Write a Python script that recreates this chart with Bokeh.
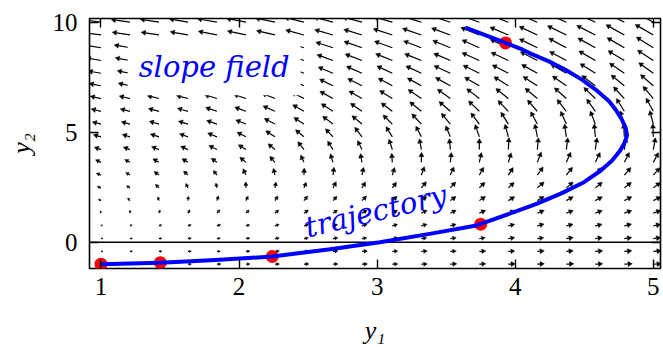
import numpy as np
from bokeh.plotting import figure
from bokeh.models import Range1d, FixedTicker, LinearAxis, Span, Label, ColumnDataSource
from bokeh.core.properties import value
from bokeh.embed import file_html
from bokeh.resources import INLINE

# ---------------- data ----------------
Y1_GRID = [1.00, 1.21, 1.42, 1.63, 1.84, 2.05, 2.26, 2.47, 2.68, 2.89,
           3.11, 3.32, 3.53, 3.74, 3.95, 4.16, 4.37, 4.58, 4.79, 5.00]
Y2_GRID = [-1.00, -0.42, 0.16, 0.74, 1.32, 1.89, 2.47, 3.05, 3.63, 4.21,
           4.79, 5.37, 5.95, 6.53, 7.11, 7.68, 8.26, 8.84, 9.42, 10.00]

# on-screen direction of every slope-field arrow (degrees, rows = Y2_GRID)
ARROW_ANGLE_DEG = [
    [0, 2, 2, 2, 2, 2, 3, 3, 3, 3, 3, 3, 3, 3, 3, 3, 3, 3, 3, 3],
    [0, 3, 4, 4, 4, 5, 5, 5, 5, 5, 5, 5, 5, 5, 5, 5, 5, 5, 5, 5],
    [12, 11, 10, 10, 10, 10, 10, 10, 10, 10, 10, 10, 10, 10, 10, 9, 9, 9, 9, 9],
    [40, 30, 24, 21, 20, 19, 19, 19, 18, 18, 17, 17, 16, 16, 15, 15, 14, 14, 14, 13],
    [100, 88, 72, 58, 49, 43, 39, 36, 33, 31, 29, 27, 26, 24, 23, 22, 21, 21, 20, 20],
    [150, 132, 108, 85, 72, 64, 57, 51, 47, 44, 41, 38, 36, 34, 32, 31, 30, 29, 28, 28],
    [160, 150, 135, 117, 103, 92, 80, 68, 62, 58, 54, 51, 48, 45, 43, 41, 40, 39, 38, 37],
    [158, 148, 144, 138, 128, 115, 103, 88, 82, 78, 74, 70, 66, 61, 57, 54, 52, 50, 49, 48],
    [155, 152, 150, 148, 145, 140, 130, 115, 107, 100, 94, 89, 84, 78, 73, 69, 66, 64, 63, 62],
    [160, 159, 158, 156, 153, 148, 140, 128, 122, 116, 108, 100, 95, 90, 87, 85, 83, 82, 81, 80],
    [164, 163, 162, 160, 158, 153, 147, 140, 133, 127, 122, 117, 113, 109, 105, 101, 98, 95, 93, 92],
    [166, 165, 164, 163, 161, 158, 153, 147, 143, 140, 136, 133, 130, 127, 122, 118, 114, 111, 108, 105],
    [167, 166, 165, 164, 162, 160, 156, 150, 147, 145, 143, 141, 139, 136, 134, 131, 128, 125, 122, 119],
    [168, 167, 166, 165, 163, 161, 158, 153, 151, 150, 148, 146, 144, 142, 141, 140, 138, 136, 133, 130],
    [169, 168, 167, 166, 165, 163, 160, 156, 154, 153, 152, 151, 151, 150, 148, 147, 145, 143, 141, 139],
    [170, 169, 168, 167, 166, 164, 162, 159, 157, 156, 155, 155, 155, 154, 153, 151, 150, 148, 146, 144],
    [170, 170, 169, 168, 167, 166, 164, 161, 160, 159, 158, 158, 157, 156, 155, 153, 152, 150, 149, 147],
    [171, 170, 170, 169, 168, 167, 165, 163, 162, 161, 160, 159, 158, 156, 155, 154, 152, 151, 150, 148],
    [172, 171, 171, 170, 169, 168, 167, 165, 164, 163, 162, 161, 160, 158, 157, 155, 154, 153, 151, 150],
    [172, 172, 171, 170, 170, 169, 168, 166, 165, 165, 164, 163, 162, 160, 159, 157, 156, 155, 153, 152],
]

# on-screen length of every arrow (pixels)
ARROW_LEN_PX = [
    [2, 2.5, 3, 3.5, 4, 4, 4.5, 5, 5, 5.5, 5.5, 6, 6.5, 6.5, 7, 7, 7.5, 7.5, 8, 8],
    [2, 2.5, 3, 3.5, 3.5, 4, 4.5, 4.5, 5, 5.5, 5.5, 6, 6, 6.5, 6.5, 7, 7, 7.5, 7.5, 8],
    [2, 2.5, 3, 3.5, 3.5, 4, 4.5, 4.5, 5, 5, 5.5, 5.5, 6, 6, 6.5, 6.5, 7, 7, 7.5, 7.5],
    [2, 2.5, 3, 3.5, 4, 4, 4.5, 5, 5, 5.5, 5.5, 6, 6, 6.5, 6.5, 7, 7, 7, 7.5, 7.5],
    [2.5, 3, 3.5, 4, 4.5, 4.5, 5, 5.5, 5.5, 6, 6, 6.5, 6.5, 7, 7, 7.5, 7.5, 7.5, 8, 8],
    [3, 3.5, 4, 4.5, 5, 5, 5.5, 6, 6, 6.5, 6.5, 7, 7, 7.5, 7.5, 8, 8, 8, 8.5, 8.5],
    [4, 4, 5, 5, 5, 6, 6, 6, 7, 7, 7, 8, 8, 8, 8, 9, 9, 9, 9, 9],
    [5, 5, 6, 6, 6, 7, 7, 7, 8, 8, 8, 9, 9, 9, 9, 10, 10, 10, 10, 10],
    [6, 6, 7, 7, 7, 8, 8, 8, 9, 9, 9, 10, 10, 10, 10, 11, 11, 11, 11, 11],
    [7, 7, 8, 8, 9, 9, 9, 10, 10, 10, 11, 11, 11, 11, 12, 12, 12, 12, 12, 12],
    [8, 8, 9, 9, 10, 10, 11, 11, 11, 12, 12, 12, 12, 13, 13, 13, 13, 13, 13, 13],
    [9, 9, 10, 10, 11, 11, 12, 12, 13, 13, 13, 14, 14, 14, 14, 14, 14, 14, 14, 14],
    [10, 10, 11, 11, 12, 12, 13, 13, 14, 14, 14, 15, 15, 15, 15, 15, 15, 15, 15, 15],
    [11, 11, 12, 12, 13, 13, 14, 14, 15, 15, 15, 16, 16, 16, 16, 16, 16, 16, 16, 16],
    [12, 12, 13, 13, 14, 14, 15, 15, 15, 16, 16, 16, 17, 17, 17, 17, 17, 17, 17, 17],
    [13, 13, 14, 14, 15, 15, 16, 16, 16, 17, 17, 17, 18, 18, 18, 18, 18, 18, 18, 18],
    [15, 15, 15, 16, 16, 16, 17, 17, 17, 18, 18, 18, 18, 19, 19, 19, 19, 19, 19, 19],
    [16, 16, 17, 17, 17, 18, 18, 18, 18, 19, 19, 19, 19, 19, 20, 20, 20, 20, 20, 20],
    [18, 18, 18, 18, 19, 19, 19, 19, 19, 19, 20, 20, 20, 20, 20, 20, 21, 21, 21, 21],
    [19, 19, 19, 19, 20, 20, 20, 20, 20, 20, 20, 21, 21, 21, 21, 21, 21, 21, 22, 22],
]

TRAJ_Y1 = [1.00, 1.43, 1.83, 2.24, 2.66, 3.02, 3.38, 3.72, 3.96, 4.15, 4.33, 4.49,
           4.62, 4.70, 4.76, 4.79, 4.81, 4.80, 4.77, 4.73, 4.68, 4.59, 4.48, 4.36,
           4.24, 4.12, 4.05, 3.93, 3.64]
TRAJ_Y2 = [-1.00, -0.93, -0.81, -0.65, -0.32, 0.00, 0.38, 0.76, 1.30, 1.73, 2.21, 2.70,
           3.26, 3.70, 4.17, 4.50, 4.85, 5.20, 5.60, 6.00, 6.41, 6.90, 7.40, 7.85,
           8.23, 8.55, 8.76, 9.06, 9.75]

DOT_Y1 = [1.00, 1.43, 2.24, 3.75, 3.93]
DOT_Y2 = [-1.00, -0.93, -0.65, 0.82, 9.06]

X_TICKS = [1, 2, 3, 4, 5]
Y_TICKS = [0, 5, 10]

# ---------------- layout ----------------
X_RANGE = (0.917, 5.052)
Y_RANGE = (-1.195, 10.168)
W, H = 663, 347
BL, BR, BT, BB = 89, 3, 18, 79
FW = W - BL - BR
FH = H - BT - BB
PXX = FW / (X_RANGE[1] - X_RANGE[0])
PXY = FH / (Y_RANGE[1] - Y_RANGE[0])

p = figure(width=W, height=H, x_range=Range1d(*X_RANGE), y_range=Range1d(*Y_RANGE),
           output_backend="svg", toolbar_location=None,
           min_border_left=BL, min_border_right=BR, min_border_top=BT, min_border_bottom=BB)
p.xgrid.visible = False
p.ygrid.visible = False
p.outline_line_color = "black"
p.outline_line_width = 1.6
p.background_fill_color = "white"
p.border_fill_color = "white"

TICK_FONT = "Liberation Serif"

def style_axis(ax, ticks, show_labels=True):
    ax.ticker = FixedTicker(ticks=ticks)
    ax.axis_line_color = None
    ax.major_tick_in = 9
    ax.major_tick_out = 0
    ax.major_tick_line_color = "black"
    ax.major_tick_line_width = 1.4
    ax.minor_tick_line_color = None
    ax.major_label_text_font = TICK_FONT
    if show_labels:
        ax.major_label_text_font_size = "25px"
        ax.major_label_text_color = "black"
    else:
        ax.major_label_text_font_size = "1px"
        ax.major_label_text_color = None
        ax.major_label_standoff = 0

style_axis(p.xaxis[0], X_TICKS)
style_axis(p.yaxis[0], Y_TICKS)
p.xaxis[0].major_label_standoff = 9
p.yaxis[0].major_label_standoff = 12
p.xaxis[0].axis_label = "y\u2081"
p.yaxis[0].axis_label = "y\u2082"
for ax in (p.xaxis[0], p.yaxis[0]):
    ax.axis_label_text_font = TICK_FONT
    ax.axis_label_text_font_style = "italic"
    ax.axis_label_text_font_size = "26px"
    ax.axis_label_text_color = "black"
p.xaxis[0].axis_label_standoff = 18
p.yaxis[0].axis_label_standoff = 14

top_ax = LinearAxis()
style_axis(top_ax, X_TICKS, show_labels=False)
p.add_layout(top_ax, "above")
right_ax = LinearAxis()
style_axis(right_ax, Y_TICKS, show_labels=False)
p.add_layout(right_ax, "right")

# horizontal line at y2 = 0
p.add_layout(Span(location=0, dimension="width", line_color="black", line_width=1.5, level="underlay"))

# ---------------- slope field arrows ----------------
gx, gy = np.meshgrid(np.array(Y1_GRID), np.array(Y2_GRID))
ang = np.radians(np.array(ARROW_ANGLE_DEG, dtype=float))
L = np.array(ARROW_LEN_PX, dtype=float)
ux, uy = np.cos(ang), np.sin(ang)
hs = np.minimum(5.0, 0.7 * L)          # head marker size (px)
hh = 0.866 * hs                        # head height (px)
tip_x = gx + L * ux / PXX
tip_y = gy + L * uy / PXY
base_x = tip_x - hh * ux / PXX
base_y = tip_y - hh * uy / PXY
cen_x = tip_x - (2.0 / 3.0) * hh * ux / PXX
cen_y = tip_y - (2.0 / 3.0) * hh * uy / PXY

src = ColumnDataSource(dict(
    x0=gx.ravel(), y0=gy.ravel(), x1=base_x.ravel(), y1=base_y.ravel(),
    cx=cen_x.ravel(), cy=cen_y.ravel(), size=hs.ravel(),
    rot=(ang - np.pi / 2).ravel(),
))
p.segment(x0="x0", y0="y0", x1="x1", y1="y1", source=src, line_color="black", line_width=1.2)
p.scatter(x="cx", y="cy", size="size", angle="rot", marker="triangle", source=src,
          fill_color="black", line_color="black", line_width=0.4)

# ---------------- trajectory ----------------
p.scatter(DOT_Y1, DOT_Y2, size=13, marker="circle", fill_color="#ff0000", line_color=None)
p.line(TRAJ_Y1, TRAJ_Y2, line_color="#0000ff", line_width=4, line_join="round")

# ---------------- annotations ----------------
p.add_layout(Label(x=1.82, y=7.95, text="slope field", text_align="center",
                   text_baseline="alphabetic", text_font="DejaVu Serif",
                   text_font_style="italic", text_font_size="29px", text_color="#0000ff",
                   background_fill_color="white", background_fill_alpha=1.0, padding=11))
p.text(x=[2.99], y=[1.42], text=["trajectory"], angle=np.radians(13.5),
       text_align="center", text_baseline="alphabetic",
       text_font=value("DejaVu Serif"), text_font_style="italic",
       text_font_size="29px", text_color="#0000ff")

open("out.html", "w").write(file_html(p, INLINE))
